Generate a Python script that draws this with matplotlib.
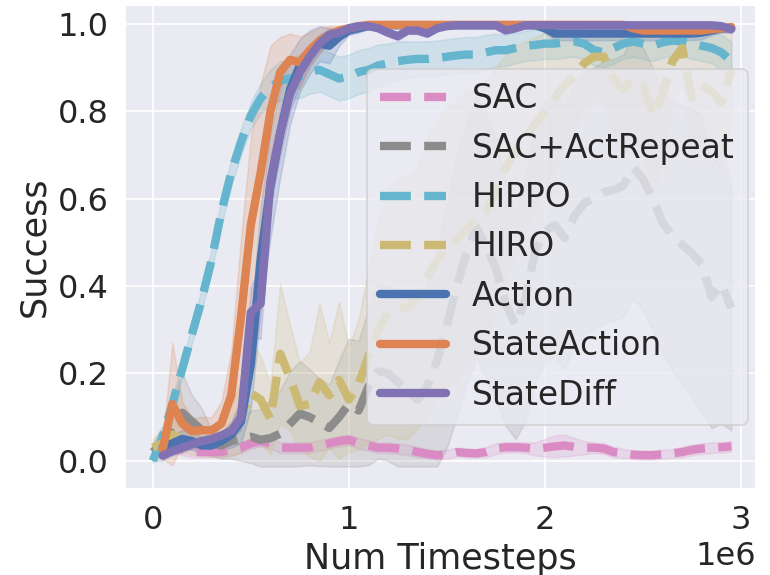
import numpy as np
import matplotlib
matplotlib.use("Agg")
import matplotlib.pyplot as plt
import seaborn as sns

# timesteps: one evaluation every 50k steps
steps = np.arange(60) * 50000

sac = [0.03, 0.03, 0.03, 0.025, 0.02, 0.02, 0.02, 0.02, 0.025, 0.03,
       0.04, 0.045, 0.04, 0.03, 0.03, 0.03, 0.03, 0.035, 0.04, 0.045,
       0.048, 0.04, 0.035, 0.03, 0.03, 0.028, 0.025, 0.02, 0.016, 0.013,
       0.015, 0.02, 0.018, 0.017, 0.02, 0.028, 0.031, 0.031, 0.03, 0.027,
       0.03, 0.033, 0.035, 0.032, 0.03, 0.03, 0.028, 0.02, 0.017, 0.014,
       0.013, 0.013, 0.015, 0.017, 0.02, 0.025, 0.028, 0.03, 0.031, 0.033]
sac_std = [0.01, 0.01, 0.012, 0.012, 0.012, 0.012, 0.012, 0.012, 0.012, 0.012,
           0.012, 0.012, 0.012, 0.012, 0.012, 0.012, 0.012, 0.012, 0.012, 0.012,
           0.012, 0.012, 0.012, 0.012, 0.012, 0.012, 0.012, 0.012, 0.01, 0.01,
           0.01, 0.01, 0.01, 0.01, 0.012, 0.012, 0.012, 0.012, 0.012, 0.015,
           0.02, 0.025, 0.025, 0.02, 0.015, 0.012, 0.012, 0.012, 0.01, 0.01,
           0.01, 0.01, 0.01, 0.01, 0.012, 0.012, 0.012, 0.012, 0.012, 0.012]

act_repeat = [0.02, 0.04, 0.08, 0.11, 0.09, 0.07, 0.04, 0.035, 0.045, 0.05,
              0.055, 0.048, 0.052, 0.062, 0.085, 0.108, 0.1, 0.088, 0.075, 0.1,
              0.13, 0.115, 0.17, 0.205, 0.2, 0.18, 0.16, 0.14, 0.17, 0.23,
              0.31, 0.4, 0.475, 0.535, 0.49, 0.44, 0.36, 0.31, 0.37, 0.48,
              0.525, 0.54, 0.51, 0.56, 0.59, 0.6, 0.615, 0.62, 0.63, 0.672,
              0.645, 0.6, 0.545, 0.515, 0.495, 0.475, 0.45, 0.375, 0.405, 0.35]
act_repeat_std = [0.02, 0.04, 0.06, 0.09, 0.06, 0.05, 0.03, 0.03, 0.04, 0.05,
                  0.06, 0.07, 0.09, 0.1, 0.12, 0.12, 0.11, 0.1, 0.1, 0.13,
                  0.15, 0.16, 0.18, 0.2, 0.2, 0.21, 0.22, 0.22, 0.24, 0.26,
                  0.28, 0.3, 0.3, 0.3, 0.3, 0.3, 0.28, 0.26, 0.28, 0.3,
                  0.3, 0.3, 0.3, 0.3, 0.3, 0.3, 0.3, 0.3, 0.3, 0.3,
                  0.3, 0.3, 0.3, 0.31, 0.32, 0.33, 0.34, 0.3, 0.32, 0.28]

hippo = [0.0, 0.055, 0.13, 0.21, 0.29, 0.37, 0.46, 0.57, 0.66, 0.73,
         0.79, 0.83, 0.855, 0.87, 0.875, 0.88, 0.89, 0.895, 0.885, 0.875,
         0.88, 0.89, 0.895, 0.905, 0.91, 0.915, 0.918, 0.92, 0.92, 0.922,
         0.925, 0.928, 0.93, 0.93, 0.935, 0.94, 0.94, 0.945, 0.95, 0.952,
         0.955, 0.955, 0.958, 0.96, 0.955, 0.94, 0.935, 0.945, 0.955, 0.96,
         0.955, 0.95, 0.958, 0.962, 0.96, 0.955, 0.95, 0.945, 0.935, 0.915]
hippo_std = [0.005, 0.01, 0.015, 0.02, 0.02, 0.025, 0.025, 0.03, 0.03, 0.03,
             0.03, 0.035, 0.04, 0.045, 0.045, 0.05, 0.05, 0.05, 0.05, 0.05,
             0.05, 0.05, 0.05, 0.048, 0.045, 0.045, 0.042, 0.04, 0.04, 0.04,
             0.04, 0.04, 0.04, 0.04, 0.04, 0.038, 0.036, 0.035, 0.035, 0.035,
             0.035, 0.035, 0.035, 0.035, 0.035, 0.035, 0.035, 0.035, 0.035, 0.035,
             0.035, 0.035, 0.035, 0.035, 0.035, 0.035, 0.035, 0.035, 0.04, 0.045]

hiro = [0.03, 0.04, 0.06, 0.05, 0.045, 0.04, 0.04, 0.05, 0.07, 0.1,
        0.155, 0.14, 0.095, 0.245, 0.19, 0.125, 0.13, 0.18, 0.15, 0.185,
        0.14, 0.175, 0.24, 0.3, 0.34, 0.35, 0.35, 0.375, 0.42, 0.46,
        0.49, 0.505, 0.53, 0.55, 0.57, 0.62, 0.67, 0.71, 0.74, 0.77,
        0.8, 0.83, 0.86, 0.88, 0.91, 0.925, 0.925, 0.875, 0.85, 0.875,
        0.86, 0.79, 0.84, 0.915, 0.945, 0.83, 0.86, 0.845, 0.82, 0.895]
hiro_std = [0.02, 0.03, 0.04, 0.03, 0.03, 0.03, 0.03, 0.04, 0.06, 0.08,
            0.12, 0.1, 0.08, 0.16, 0.12, 0.1, 0.12, 0.18, 0.12, 0.18,
            0.12, 0.15, 0.2, 0.25, 0.28, 0.3, 0.3, 0.3, 0.32, 0.32,
            0.32, 0.32, 0.32, 0.3, 0.3, 0.28, 0.26, 0.24, 0.22, 0.2,
            0.18, 0.16, 0.14, 0.12, 0.1, 0.08, 0.1, 0.14, 0.15, 0.14,
            0.15, 0.18, 0.16, 0.1, 0.08, 0.15, 0.14, 0.15, 0.16, 0.1]

# ours: first evaluation at 50k steps
action = [0.03, 0.04, 0.05, 0.045, 0.035, 0.035, 0.045, 0.06, 0.09,
          0.22, 0.46, 0.63, 0.75, 0.85, 0.905, 0.935, 0.955, 0.95, 0.97,
          0.985, 0.99, 0.995, 0.997, 0.997, 0.997, 0.997, 0.997, 0.997, 0.997,
          0.997, 0.997, 0.997, 0.997, 0.997, 0.997, 0.997, 0.997, 0.997, 0.997,
          0.99, 0.978, 0.978, 0.978, 0.978, 0.978, 0.978, 0.978, 0.978, 0.978,
          0.978, 0.978, 0.978, 0.978, 0.978, 0.978, 0.98, 0.985, 0.99, 0.99]
action_std = [0.01, 0.02, 0.02, 0.02, 0.02, 0.02, 0.02, 0.03, 0.05,
              0.1, 0.12, 0.12, 0.1, 0.08, 0.06, 0.05, 0.04, 0.04, 0.02,
              0.01, 0.01, 0.005, 0.005, 0.005, 0.005, 0.005, 0.005, 0.005, 0.005,
              0.005, 0.005, 0.005, 0.005, 0.005, 0.005, 0.005, 0.005, 0.005, 0.005,
              0.01, 0.015, 0.015, 0.015, 0.015, 0.015, 0.015, 0.015, 0.015, 0.015,
              0.015, 0.015, 0.015, 0.015, 0.015, 0.015, 0.015, 0.01, 0.01, 0.01]

state_action = [0.025, 0.13, 0.085, 0.068, 0.07, 0.07, 0.085, 0.15, 0.33,
                0.54, 0.66, 0.8, 0.89, 0.918, 0.912, 0.94, 0.962, 0.975, 0.985,
                0.99, 0.995, 0.998, 0.998, 0.998, 0.998, 0.998, 0.998, 0.998, 0.998,
                0.998, 0.998, 0.998, 0.998, 0.998, 0.998, 0.998, 0.998, 0.998, 0.998,
                0.998, 0.998, 0.998, 0.998, 0.998, 0.998, 0.998, 0.998, 0.998, 0.99,
                0.985, 0.985, 0.985, 0.985, 0.985, 0.985, 0.985, 0.988, 0.99, 0.993]
state_action_std = [0.02, 0.14, 0.05, 0.03, 0.03, 0.03, 0.05, 0.1, 0.18,
                    0.2, 0.2, 0.15, 0.08, 0.06, 0.06, 0.04, 0.03, 0.02, 0.01,
                    0.01, 0.005, 0.003, 0.003, 0.003, 0.003, 0.003, 0.003, 0.003, 0.003,
                    0.003, 0.003, 0.003, 0.003, 0.003, 0.003, 0.003, 0.003, 0.003, 0.003,
                    0.003, 0.003, 0.003, 0.003, 0.003, 0.003, 0.003, 0.003, 0.003, 0.008,
                    0.01, 0.01, 0.01, 0.01, 0.01, 0.01, 0.01, 0.01, 0.008, 0.005]

state_diff = [0.012, 0.022, 0.03, 0.038, 0.045, 0.05, 0.058, 0.068, 0.1,
              0.34, 0.36, 0.64, 0.75, 0.84, 0.89, 0.925, 0.955, 0.975, 0.98,
              0.99, 0.995, 0.995, 0.99, 0.98, 0.972, 0.985, 0.985, 0.978, 0.99,
              0.995, 0.997, 0.997, 0.997, 0.997, 0.997, 0.985, 0.99, 0.997, 0.997,
              0.997, 0.997, 0.997, 0.997, 0.997, 0.997, 0.997, 0.997, 0.997, 0.997,
              0.997, 0.997, 0.997, 0.997, 0.997, 0.997, 0.997, 0.997, 0.995, 0.988]
state_diff_std = [0.01, 0.01, 0.01, 0.01, 0.01, 0.01, 0.01, 0.015, 0.03,
                  0.06, 0.08, 0.06, 0.05, 0.04, 0.03, 0.02, 0.02, 0.015, 0.01,
                  0.008, 0.005, 0.005, 0.005, 0.008, 0.01, 0.008, 0.008, 0.008, 0.005,
                  0.003, 0.003, 0.003, 0.003, 0.003, 0.003, 0.005, 0.005, 0.003, 0.003,
                  0.003, 0.003, 0.003, 0.003, 0.003, 0.003, 0.003, 0.003, 0.003, 0.003,
                  0.003, 0.003, 0.003, 0.003, 0.003, 0.003, 0.003, 0.003, 0.005, 0.008]

labels = ["SAC", "SAC+ActRepeat", "HiPPO", "HIRO",
          "Action", "StateAction", "StateDiff"]

sns.set_theme(style="darkgrid", font_scale=1.75)
pal = sns.color_palette("deep")
colors = [pal[6], pal[7], pal[9], pal[8], pal[0], pal[1], pal[4]]

series = [
    (steps, sac, sac_std, "--"),
    (steps, act_repeat, act_repeat_std, "--"),
    (steps, hippo, hippo_std, "--"),
    (steps, hiro, hiro_std, "--"),
    (steps[1:], action, action_std, "-"),
    (steps[1:], state_action, state_action_std, "-"),
    (steps[1:], state_diff, state_diff_std, "-"),
]

fig, ax = plt.subplots(figsize=(770 / 120, 575 / 120), dpi=120)

for (x, mean, std, ls), label, color in zip(series, labels, colors):
    mean = np.array(mean)
    std = np.array(std)
    low = np.clip(mean - std, -0.013, 1.0)
    high = np.clip(mean + std, -0.013, 1.0)
    ax.fill_between(x, low, high, color=color, alpha=0.2)
    ax.plot(x, mean, ls, color=color, lw=5, label=label)

ax.set_xlim(-0.143e6, 3.077e6)
ax.set_ylim(-0.064, 1.043)
ax.set_xlabel("Num Timesteps")
ax.set_ylabel("Success")
ax.legend(loc="center right", fontsize=19.7, borderaxespad=0.25)

plt.subplots_adjust(left=0.162, right=0.982, bottom=0.150, top=0.991)
plt.savefig("out.png", dpi=120)
